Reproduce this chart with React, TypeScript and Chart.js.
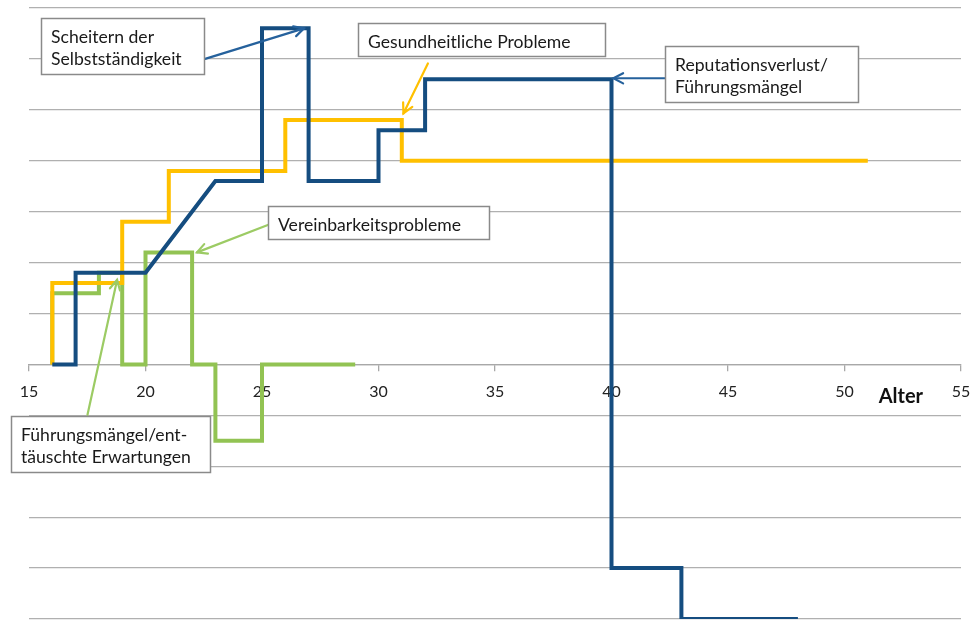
import { useEffect, useRef } from "react";
import { Chart, registerables } from "chart.js";

Chart.register(...registerables);

// ---- data (ages on x, grid units on y) ----
const xTicks = [15, 20, 25, 30, 35, 40, 45, 50, 55];
const blueX = [16, 17, 17, 20, 23, 25, 25, 27, 27, 30, 30, 32, 32, 40, 40, 43, 43, 48];
const blueY = [0, 0, 1.8, 1.8, 3.6, 3.6, 6.6, 6.6, 3.6, 3.6, 4.6, 4.6, 5.6, 5.6, -4, -4, -5, -5];
const yellowX = [16, 16, 19, 19, 21, 21, 26, 26, 31, 31, 51];
const yellowY = [0, 1.6, 1.6, 2.8, 2.8, 3.8, 3.8, 4.8, 4.8, 4, 4];
const greenX = [16, 16, 18, 18, 19, 19, 20, 20, 22, 22, 23, 23, 25, 25, 29];
const greenY = [0, 1.4, 1.4, 1.8, 1.8, 0, 0, 2.2, 2.2, 0, 0, -1.5, -1.5, 0, 0];

const axisTitle = "Alter";

const BLUE = "#154d80";
const YELLOW = "#ffc000";
const GREEN = "#92c353";
const FONT = "Lato, 'Open Sans', sans-serif";

// annotation callouts, anchored in data units
const notes = [
  { lines: ["Scheitern der", "Selbstständigkeit"], x: 15.5, y: 6.8, w: 163, h: 56, color: "#25619c", from: [22.49, 5.99], to: [26.8, 6.6] },
  { lines: ["Gesundheitliche Probleme"], x: 29.1, y: 6.71, w: 247, h: 33, color: YELLOW, from: [32.12, 5.91], to: [31.07, 4.93] },
  { lines: ["Reputationsverlust/", "Führungsmängel"], x: 42.31, y: 6.25, w: 193, h: 56, color: "#25619c", from: [42.31, 5.62], to: [40.08, 5.62] },
  { lines: ["Vereinbarkeitsprobleme"], x: 25.25, y: 3.12, w: 221, h: 33, color: "#9ccb64", from: [25.25, 2.74], to: [22.21, 2.2] },
  { lines: ["Führungsmängel/ent-", "täuschte Erwartungen"], x: 14.23, y: -1.01, w: 199, h: 56, color: "#9ccb64", from: [17.51, -0.99], to: [18.78, 1.66] },
];

function toPts(xs: number[], ys: number[]) {
  return xs.map((x, i) => ({ x, y: ys[i] }));
}

const notesPlugin = {
  id: "notes",
  afterDatasetsDraw(chart: any) {
    const { ctx, scales } = chart;
    const sx = scales.x;
    const sy = scales.y;
    ctx.save();
    for (const n of notes) {
      const fx = sx.getPixelForValue(n.from[0]);
      const fy = sy.getPixelForValue(n.from[1]);
      const tx = sx.getPixelForValue(n.to[0]);
      const ty = sy.getPixelForValue(n.to[1]);
      ctx.strokeStyle = n.color;
      ctx.lineWidth = 2.2;
      ctx.lineCap = "round";
      ctx.beginPath();
      ctx.moveTo(fx, fy);
      ctx.lineTo(tx, ty);
      ctx.stroke();
      const ang = Math.atan2(ty - fy, tx - fx);
      const L = 11;
      const a = Math.PI / 6.5;
      ctx.beginPath();
      ctx.moveTo(tx - L * Math.cos(ang - a), ty - L * Math.sin(ang - a));
      ctx.lineTo(tx, ty);
      ctx.lineTo(tx - L * Math.cos(ang + a), ty - L * Math.sin(ang + a));
      ctx.stroke();
    }
    for (const n of notes) {
      const bx = Math.round(sx.getPixelForValue(n.x)) + 0.5;
      const by = Math.round(sy.getPixelForValue(n.y)) + 0.5;
      ctx.fillStyle = "#ffffff";
      ctx.fillRect(bx, by, n.w, n.h);
      ctx.strokeStyle = "#8a8a8a";
      ctx.lineWidth = 1.5;
      ctx.strokeRect(bx, by, n.w, n.h);
      ctx.fillStyle = "#1a1a1a";
      ctx.font = `17.6px ${FONT}`;
      ctx.textBaseline = "alphabetic";
      ctx.textAlign = "left";
      n.lines.forEach((t, i) => {
        ctx.fillText(t, bx + 9.5, by + 24.5 + i * 22);
      });
    }
    ctx.fillStyle = "#111";
    ctx.font = `bold 20px ${FONT}`;
    ctx.textAlign = "center";
    ctx.fillText(axisTitle, sx.getPixelForValue(52.42), sy.getPixelForValue(-0.76));
    ctx.restore();
  },
};

export default function App() {
  const ref = useRef<HTMLCanvasElement | null>(null);
  useEffect(() => {
    if (!ref.current) return;
    const lineDs = (label: string, xs: number[], ys: number[], color: string) => ({
      label,
      data: toPts(xs, ys),
      showLine: true,
      borderColor: color,
      backgroundColor: color,
      borderWidth: 4,
      pointRadius: 0,
      borderJoinStyle: "miter" as const,
      tension: 0,
      fill: false,
    });
    const chart = new Chart(ref.current, {
      type: "scatter",
      data: {
        datasets: [
          lineDs("Scheitern", blueX, blueY, BLUE),
          lineDs("Gesundheit", yellowX, yellowY, YELLOW),
          lineDs("Vereinbarkeit", greenX, greenY, GREEN),
        ],
      },
      options: {
        animation: false,
        responsive: false,
        maintainAspectRatio: false,
        layout: { padding: { left: 29, right: 15, top: 8, bottom: 3 } },
        plugins: { legend: { display: false }, tooltip: { enabled: false } },
        scales: {
          x: {
            type: "linear",
            position: { y: 0 } as any,
            min: 15,
            max: 55,
            afterBuildTicks: (s: any) => {
              s.ticks = xTicks.map((v) => ({ value: v }));
            },
            afterFit: (s: any) => {
              s.paddingLeft = 0;
              s.paddingRight = 0;
            },
            ticks: {
              color: "#222",
              font: { family: FONT, size: 16 },
              padding: 12,
              maxRotation: 0,
            },
            grid: {
              display: true,
              drawOnChartArea: false,
              drawTicks: true,
              tickLength: 6,
              color: "#a8a8a8",
              lineWidth: 1.3,
            },
            border: { display: true, color: "#a8a8a8", width: 1.3 },
          },
          y: {
            type: "linear",
            min: -5,
            max: 7,
            ticks: { display: false, stepSize: 1 },
            grid: { color: "#b0b0b0", lineWidth: 1.3, drawTicks: false },
            border: { display: false },
          },
        },
      },
      plugins: [notesPlugin],
    });
    return () => chart.destroy();
  }, []);
  return (
    <div style={{ position: "absolute", left: 0, top: 0, width: 976, height: 622, background: "#fff" }}>
      <canvas ref={ref} width={976} height={622} style={{ display: "block" }} />
    </div>
  );
}
